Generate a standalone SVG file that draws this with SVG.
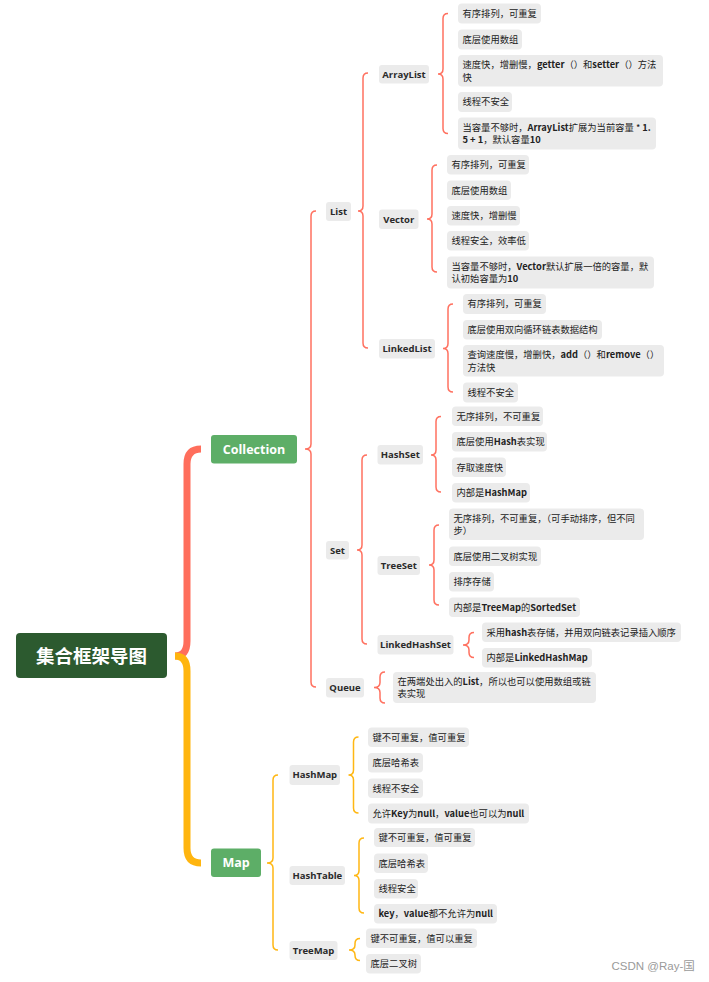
<svg xmlns="http://www.w3.org/2000/svg" width="709" height="982" viewBox="0 0 709 982">
<style>
.bg{fill:#ffffff}
.lf{fill:#EBEBEB}
.lt{font-family:"Noto Sans CJK SC","Noto Sans",sans-serif;font-size:9.3px;fill:#222222}
.b{font-weight:bold}
.nd{fill:#EBEBEB}
.nt{font-family:"Open Sans","Liberation Sans",sans-serif;font-size:9.5px;font-weight:bold;fill:#2a2a2a;text-anchor:middle}
.gn{fill:#5DAE67}
.gt{font-family:"Open Sans","Liberation Sans",sans-serif;font-size:12.5px;font-weight:bold;fill:#ffffff;text-anchor:middle}
.br{fill:none;stroke:#FF7160;stroke-width:1.5}
.by{fill:none;stroke:#FFB713;stroke-width:1.5}
.rr{fill:none;stroke:#FF6E5C;stroke-width:7}
.ry{fill:none;stroke:#FFB50F;stroke-width:7}
</style>
<rect class="bg" x="0" y="0" width="709" height="982"/>

<g id="connectors">
  <path class="rr" d="M201,449 Q187,449 187,464 L187,641 Q187,656 175,656"/>
  <path class="ry" d="M175,656 Q187,656 187,671 L187,848 Q187,863 201,863"/>
  <path class="br" d="M316,211 Q311,211 311,216 L311,444 Q311,449 305,449 Q311,449 311,454 L311,682 Q311,687 316,687"/>
  <path class="br" d="M368,73 Q363,73 363,78 L363,206 Q363,211 358,211 Q363,211 363,216 L363,343 Q363,348 368,348"/>
  <path class="br" d="M448,13.5 Q443,13.5 443,18.5 L443,69 Q443,74 438,74 Q443,74 443,79 L443,128.5 Q443,133.5 448,133.5"/>
  <path class="br" d="M437,165 Q432,165 432,170 L432,214 Q432,219 427,219 Q432,219 432,224 L432,267 Q432,272 437,272"/>
  <path class="br" d="M453,304 Q448,304 448,309 L448,343.5 Q448,348.5 443,348.5 Q448,348.5 448,353.5 L448,387 Q448,392 453,392"/>
  <path class="br" d="M367,455 Q362,455 362,460 L362,545 Q362,550 357,550 Q362,550 362,555 L362,639 Q362,644 367,644"/>
  <path class="br" d="M441,416.5 Q436,416.5 436,421.5 L436,450 Q436,455 431,455 Q436,455 436,460 L436,487 Q436,492 441,492"/>
  <path class="br" d="M439,525 Q434,525 434,530 L434,560 Q434,565 429,565 Q434,565 434,570 L434,600 Q434,605 439,605"/>
  <path class="br" d="M474,632.5 Q469,632.5 469,637.5 L469,640 Q469,645 463,645 Q469,645 469,650 L469,652.5 Q469,657.5 474,657.5"/>
  <path class="br" d="M385,672 Q380,672 380,677 L380,682.5 Q380,687.5 374,687.5 Q380,687.5 380,692.5 L380,698 Q380,703 385,703"/>
  <path class="by" d="M278,775 Q273,775 273,780 L273,858 Q273,863 267,863 Q273,863 273,868 L273,945 Q273,950 278,950"/>
  <path class="by" d="M358.5,737 Q353.5,737 353.5,742 L353.5,770 Q353.5,775 348.5,775 Q353.5,775 353.5,780 L353.5,808 Q353.5,813 358.5,813"/>
  <path class="by" d="M364,838 Q359,838 359,843 L359,870.5 Q359,875.5 354,875.5 Q359,875.5 359,880.5 L359,908 Q359,913 364,913"/>
  <path class="by" d="M360,938.5 Q355,938.5 355,943.5 L355,945 Q355,950 349,950 Q355,950 355,955 L355,955.5 Q355,960.5 360,960.5"/>
</g>

<g id="root">
  <rect x="16" y="633" width="151" height="45" rx="4" fill="#2C5A2F"/>
  <text x="91.5" y="662.5" font-family="Noto Sans CJK SC, sans-serif" font-size="18.5" font-weight="bold" fill="#ffffff" text-anchor="middle">集合框架导图</text>
</g>

<g id="collection">
  <rect class="gn" x="211" y="435" width="86" height="28.5" rx="3"/>
  <text class="gt" x="254" y="453.8">Collection</text>
</g>
<g id="map">
  <rect class="gn" x="211" y="848.5" width="50" height="28.5" rx="3"/>
  <text class="gt" x="236" y="867.3">Map</text>
</g>

<g id="list"><rect class="nd" x="326" y="202" width="25" height="19" rx="3"/><text class="nt" x="338.5" y="214.9">List</text></g>
<g id="arraylist"><rect class="nd" x="379" y="65" width="50" height="18.5" rx="3"/><text class="nt" x="404" y="77.6">ArrayList</text></g>
<g id="vector"><rect class="nd" x="379" y="209.5" width="39.5" height="19.5" rx="3"/><text class="nt" x="398.8" y="222.6">Vector</text></g>
<g id="linkedlist"><rect class="nd" x="379" y="339" width="56" height="19.5" rx="3"/><text class="nt" x="407" y="352.1">LinkedList</text></g>
<g id="set"><rect class="nd" x="326" y="541" width="23" height="18.5" rx="3"/><text class="nt" x="337.5" y="553.6">Set</text></g>
<g id="hashset"><rect class="nd" x="377.5" y="445" width="45.5" height="19.5" rx="3"/><text class="nt" x="400.3" y="458.1">HashSet</text></g>
<g id="treeset"><rect class="nd" x="377.5" y="556" width="42.5" height="19" rx="3"/><text class="nt" x="398.8" y="568.9">TreeSet</text></g>
<g id="linkedhashset"><rect class="nd" x="377.5" y="635" width="76" height="19.5" rx="3"/><text class="nt" x="415.5" y="648.1">LinkedHashSet</text></g>
<g id="queue"><rect class="nd" x="326" y="678" width="38" height="19.5" rx="3"/><text class="nt" x="345" y="691.1">Queue</text></g>
<g id="hashmap"><rect class="nd" x="289.5" y="765" width="50.5" height="20" rx="3"/><text class="nt" x="314.8" y="778.4">HashMap</text></g>
<g id="hashtable"><rect class="nd" x="289.5" y="866" width="55.5" height="19" rx="3"/><text class="nt" x="317.3" y="878.9">HashTable</text></g>
<g id="treemap"><rect class="nd" x="289.5" y="941" width="48" height="19" rx="3"/><text class="nt" x="313.5" y="953.9">TreeMap</text></g>

<g id="al1"><rect class="lf" x="458" y="3.5" width="83" height="20" rx="4"/><text class="lt" x="462.5" y="16.8">有序排列，可重复</text></g>
<g id="al2"><rect class="lf" x="458" y="29.5" width="64" height="20" rx="4"/><text class="lt" x="462.5" y="42.8">底层使用数组</text></g>
<g id="al3"><rect class="lf" x="458" y="55" width="205" height="31.5" rx="4"/><text class="lt" x="462.5" y="68.3">速度快，增删慢，<tspan class="b">getter</tspan>（）和<tspan class="b">setter</tspan>（）方法</text><text class="lt" x="462.5" y="80.6">快</text></g>
<g id="al4"><rect class="lf" x="458" y="92" width="54" height="20" rx="4"/><text class="lt" x="462.5" y="105.3">线程不安全</text></g>
<g id="al5"><rect class="lf" x="458" y="117.5" width="198" height="32" rx="4"/><text class="lt" x="462.5" y="131">当容量不够时，<tspan class="b">ArrayList</tspan>扩展为当前容量 * <tspan class="b">1.</tspan></text><text class="lt" x="462.5" y="143.3"><tspan class="b">5 + 1</tspan>，默认容量<tspan class="b">10</tspan></text></g>

<g id="v1"><rect class="lf" x="447" y="155" width="82" height="19.5" rx="4"/><text class="lt" x="451.5" y="168">有序排列，可重复</text></g>
<g id="v2"><rect class="lf" x="447" y="180.5" width="64" height="19.5" rx="4"/><text class="lt" x="451.5" y="193.5">底层使用数组</text></g>
<g id="v3"><rect class="lf" x="447" y="206" width="73" height="19.5" rx="4"/><text class="lt" x="451.5" y="219">速度快，增删慢</text></g>
<g id="v4"><rect class="lf" x="447" y="231" width="82" height="19.5" rx="4"/><text class="lt" x="451.5" y="244">线程安全，效率低</text></g>
<g id="v5"><rect class="lf" x="447" y="256.5" width="207" height="32" rx="4"/><text class="lt" x="451.5" y="270">当容量不够时，<tspan class="b">Vector</tspan>默认扩展一倍的容量，默</text><text class="lt" x="451.5" y="282.3">认初始容量为<tspan class="b">10</tspan></text></g>

<g id="ll1"><rect class="lf" x="463" y="294" width="83" height="20" rx="4"/><text class="lt" x="467.5" y="307.3">有序排列，可重复</text></g>
<g id="ll2"><rect class="lf" x="463" y="320" width="139" height="19.5" rx="4"/><text class="lt" x="467.5" y="333">底层使用双向循环链表数据结构</text></g>
<g id="ll3"><rect class="lf" x="463" y="345" width="201" height="31.5" rx="4"/><text class="lt" x="467.5" y="358.3">查询速度慢，增删快，<tspan class="b">add</tspan>（）和<tspan class="b">remove</tspan>（）</text><text class="lt" x="467.5" y="370.6">方法快</text></g>
<g id="ll4"><rect class="lf" x="463" y="382.5" width="55" height="20" rx="4"/><text class="lt" x="467.5" y="395.8">线程不安全</text></g>

<g id="hs1"><rect class="lf" x="452" y="406.5" width="91" height="19.5" rx="4"/><text class="lt" x="456.5" y="419.5">无序排列，不可重复</text></g>
<g id="hs2"><rect class="lf" x="452" y="432" width="95" height="19.5" rx="4"/><text class="lt" x="456.5" y="445">底层使用<tspan class="b">Hash</tspan>表实现</text></g>
<g id="hs3"><rect class="lf" x="452" y="457.5" width="54" height="19.5" rx="4"/><text class="lt" x="456.5" y="470.5">存取速度快</text></g>
<g id="hs4"><rect class="lf" x="452" y="483" width="78" height="19.5" rx="4"/><text class="lt" x="456.5" y="496">内部是<tspan class="b">HashMap</tspan></text></g>

<g id="ts1"><rect class="lf" x="449" y="508.5" width="195" height="31.5" rx="4"/><text class="lt" x="453.5" y="521.8">无序排列，不可重复，（可手动排序，但不同</text><text class="lt" x="453.5" y="534.1">步）</text></g>
<g id="ts2"><rect class="lf" x="449" y="546.5" width="92" height="19.5" rx="4"/><text class="lt" x="453.5" y="559.5">底层使用二叉树实现</text></g>
<g id="ts3"><rect class="lf" x="449" y="572" width="45" height="19.5" rx="4"/><text class="lt" x="453.5" y="585">排序存储</text></g>
<g id="ts4"><rect class="lf" x="449" y="597.5" width="131" height="19.5" rx="4"/><text class="lt" x="453.5" y="610.5">内部是<tspan class="b">TreeMap</tspan>的<tspan class="b">SortedSet</tspan></text></g>

<g id="lhs1"><rect class="lf" x="482" y="622.5" width="199" height="19.5" rx="4"/><text class="lt" x="486.5" y="635.5">采用<tspan class="b">hash</tspan>表存储，并用双向链表记录插入顺序</text></g>
<g id="lhs2"><rect class="lf" x="482" y="648" width="110" height="19.5" rx="4"/><text class="lt" x="486.5" y="661">内部是<tspan class="b">LinkedHashMap</tspan></text></g>

<g id="q1"><rect class="lf" x="393" y="672" width="203" height="31" rx="4"/><text class="lt" x="397.5" y="685">在两端处出入的<tspan class="b">List</tspan>，所以也可以使用数组或链</text><text class="lt" x="397.5" y="697.3">表实现</text></g>

<g id="hm1"><rect class="lf" x="368" y="727.5" width="101" height="19.5" rx="4"/><text class="lt" x="372.5" y="740.5">键不可重复，值可重复</text></g>
<g id="hm2"><rect class="lf" x="368" y="753" width="55" height="19.5" rx="4"/><text class="lt" x="372.5" y="766">底层哈希表</text></g>
<g id="hm3"><rect class="lf" x="368" y="778.5" width="55" height="19.5" rx="4"/><text class="lt" x="372.5" y="791.5">线程不安全</text></g>
<g id="hm4"><rect class="lf" x="368" y="803.5" width="161" height="20" rx="4"/><text class="lt" x="372.5" y="816.8">允许<tspan class="b">Key</tspan>为<tspan class="b">null</tspan>，<tspan class="b">value</tspan>也可以为<tspan class="b">null</tspan></text></g>

<g id="ht1"><rect class="lf" x="374" y="828" width="101" height="19" rx="4"/><text class="lt" x="378.5" y="840.8">键不可重复，值可重复</text></g>
<g id="ht2"><rect class="lf" x="374" y="853.5" width="54" height="19.5" rx="4"/><text class="lt" x="378.5" y="866.5">底层哈希表</text></g>
<g id="ht3"><rect class="lf" x="374" y="879" width="44" height="19.5" rx="4"/><text class="lt" x="378.5" y="892">线程安全</text></g>
<g id="ht4"><rect class="lf" x="374" y="904" width="123" height="19.5" rx="4"/><text class="lt" x="378.5" y="917"><tspan class="b">key</tspan>，<tspan class="b">value</tspan>都不允许为<tspan class="b">null</tspan></text></g>

<g id="tm1"><rect class="lf" x="366" y="928.5" width="111" height="19.5" rx="4"/><text class="lt" x="370.5" y="941.5">键不可重复，值可以重复</text></g>
<g id="tm2"><rect class="lf" x="366" y="954" width="55" height="19.5" rx="4"/><text class="lt" x="370.5" y="967">底层二叉树</text></g>

<text x="611.5" y="970" font-family="Liberation Sans, Noto Sans CJK SC, sans-serif" font-size="11.5" fill="#9a9a9a">CSDN @Ray-国</text>
</svg>
